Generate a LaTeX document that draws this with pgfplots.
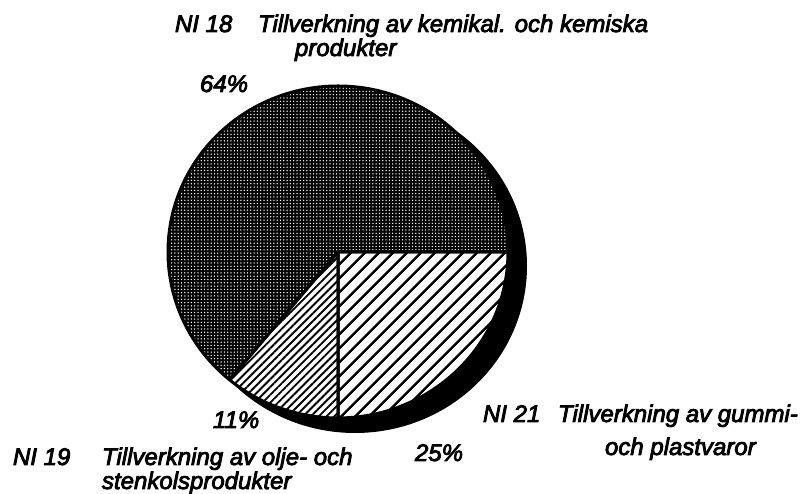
\documentclass[border=0pt]{standalone}
\usepackage{pgfplots}
\pgfplotsset{compat=1.18}
\usepackage{pgfplotstable}
\usetikzlibrary{patterns.meta}
\usepackage{fontspec}
\newfontfamily\lab{Liberation Sans}[UprightFont={* Italic}, FakeBold=3.5]

\pgfplotstableread{
label value
NI18 64
NI19 11
NI21 25
}\piedata

\newcommand\piewedge[2]{(axis cs:338,241) -- ++(#1:170pt and 166pt) arc[start angle=#1, end angle=#2, x radius=170pt, y radius=166pt] -- cycle}
\tikzset{lbl/.style={font=\lab\fontsize{24}{24}\selectfont, anchor=base west, inner sep=0pt, outer sep=0pt}}

\begin{document}
\begin{tikzpicture}
\pgfplotstablegetelem{0}{value}\of\piedata \pgfmathsetmacro\va{\pgfplotsretval}
\pgfplotstablegetelem{1}{value}\of\piedata \pgfmathsetmacro\vb{\pgfplotsretval}
\pgfplotstablegetelem{2}{value}\of\piedata \pgfmathsetmacro\vc{\pgfplotsretval}
\pgfmathsetmacro\aA{0}
\pgfmathsetmacro\aB{\aA+3.6*\va}
\pgfmathsetmacro\aC{\aB+3.6*\vb}
\pgfmathsetmacro\aD{\aC+3.6*\vc}
\begin{axis}[x=1pt, y=1pt, xmin=0, xmax=801, ymin=0, ymax=493,
  axis line style={draw=none}, ticks=none, clip=false]
\path (axis cs:0,0) rectangle (axis cs:801,493);
% shadow
\fill[black] (axis cs:355,227) ellipse [x radius=172pt, y radius=167pt];
% 64% slice
\fill[black] \piewedge{\aA}{\aB};
\fill[pattern={Dots[distance=3.3pt, radius=0.75pt]}, pattern color=white] \piewedge{\aA}{\aB};
% 11% slice
\fill[white] \piewedge{\aB}{\aC};
\fill[pattern={Lines[angle=45, distance=5.5pt, line width=1.9pt]}, pattern color=black] \piewedge{\aB}{\aC};
% 25% slice
\fill[white] \piewedge{\aC}{\aD};
\fill[pattern={Lines[angle=45, distance=10.5pt, line width=2.8pt]}, pattern color=black] \piewedge{\aC}{\aD};
% outlines
\draw[line width=3pt, line join=round] \piewedge{\aA}{\aB};
\draw[line width=3pt, line join=round] \piewedge{\aB}{\aC};
\draw[line width=3pt, line join=round] \piewedge{\aC}{\aD};
% labels
\node[lbl] at (axis cs:175,461) {NI 18};
\node[lbl] at (axis cs:258,461) {Tillverkning av kemikal. och kemiska};
\node[lbl] at (axis cs:295,437) {produkter};
\node[lbl] at (axis cs:200,401) {64\%};
\node[lbl] at (axis cs:213,65) {11\%};
\node[lbl] at (axis cs:415,32) {25\%};
\node[lbl] at (axis cs:483,71) {NI 21};
\node[lbl] at (axis cs:558,71) {Tillverkning av gummi-};
\node[lbl] at (axis cs:605,38) {och plastvaror};
\node[lbl] at (axis cs:13,28) {NI 19};
\node[lbl] at (axis cs:102,28) {Tillverkning av olje- och};
\node[lbl] at (axis cs:102,4) {stenkolsprodukter};
\end{axis}
\end{tikzpicture}
\end{document}
